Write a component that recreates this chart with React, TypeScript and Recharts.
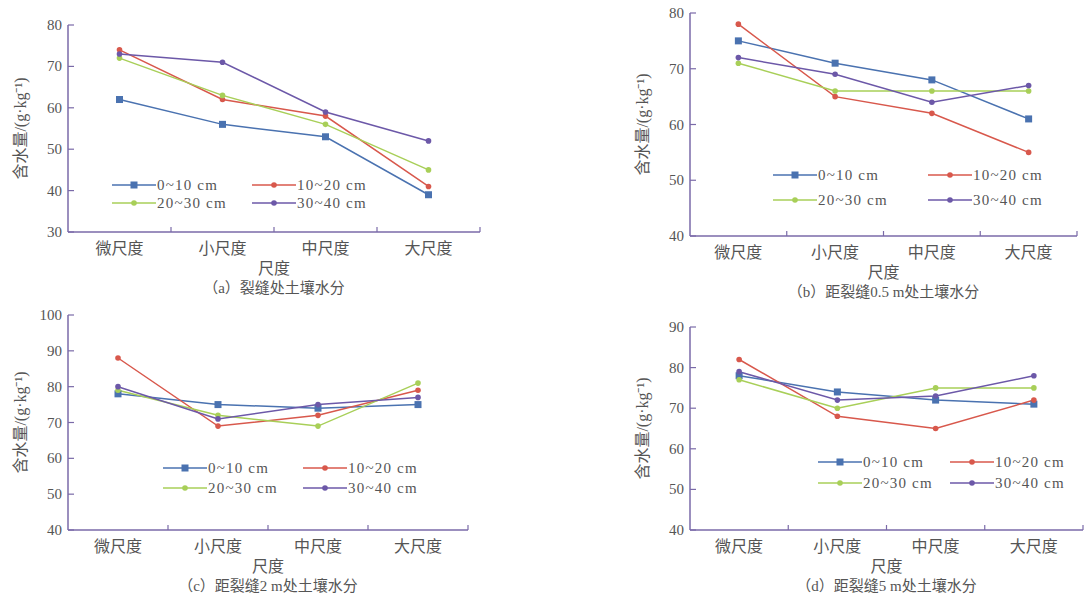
import React from "react";
import { Label, Legend, Line, LineChart, XAxis, YAxis } from "recharts";

const categories = ["微尺度", "小尺度", "中尺度", "大尺度"];
const seriesNames = ["0~10 cm", "10~20 cm", "20~30 cm", "30~40 cm"];
const seriesColors = ["#4a72b0", "#d8584c", "#a8cf58", "#6c58a8"];

// panel (a) 裂缝处
const aDepth1 = [62, 56, 53, 39];
const aDepth2 = [74, 62, 58, 41];
const aDepth3 = [72, 63, 56, 45];
const aDepth4 = [73, 71, 59, 52];

// panel (b) 0.5 m
const bDepth1 = [75, 71, 68, 61];
const bDepth2 = [78, 65, 62, 55];
const bDepth3 = [71, 66, 66, 66];
const bDepth4 = [72, 69, 64, 67];

// panel (c) 2 m
const cDepth1 = [78, 75, 74, 75];
const cDepth2 = [88, 69, 72, 79];
const cDepth3 = [79, 72, 69, 81];
const cDepth4 = [80, 71, 75, 77];

// panel (d) 5 m
const dDepth1 = [78, 74, 72, 71];
const dDepth2 = [82, 68, 65, 72];
const dDepth3 = [77, 70, 75, 75];
const dDepth4 = [79, 72, 73, 78];

const aTicks = [30, 40, 50, 60, 70, 80];
const bTicks = [40, 50, 60, 70, 80];
const cTicks = [40, 50, 60, 70, 80, 90, 100];
const dTicks = [40, 50, 60, 70, 80, 90];

const FONT = '"Liberation Serif", "Noto Sans CJK SC", serif';
const AXIS = "#7a6aa8";
const TEXT = "#555";

const buildRows = (cols: number[][]) =>
  categories.map((name, i) => ({
    name,
    s0: cols[0][i],
    s1: cols[1][i],
    s2: cols[2][i],
    s3: cols[3][i],
  }));

const Marker = ({ cx, cy, color, square }) =>
  square ? (
    <rect x={cx - 3.5} y={cy - 3.5} width={7} height={7} fill={color} />
  ) : (
    <circle cx={cx} cy={cy} r={2.8} fill={color} />
  );

const LegendBox = ({ payload, colW, rowH }) => (
  <div
    style={{
      display: "grid",
      gridTemplateColumns: `${colW}px ${colW}px`,
      rowGap: rowH - 16,
      fontFamily: FONT,
      fontSize: 15,
      color: TEXT,
      letterSpacing: 1.2,
    }}
  >
    {(payload || []).map((p, i) => (
      <div key={p.value} style={{ display: "flex", alignItems: "center", height: 16 }}>
        <svg width={44} height={10}>
          <line x1={0} y1={5} x2={44} y2={5} stroke={p.color} strokeWidth={1.5} />
          <Marker cx={22} cy={5} color={p.color} square={i === 0} />
        </svg>
        <span style={{ marginLeft: 1, whiteSpace: "nowrap" }}>{p.value}</span>
      </div>
    ))}
  </div>
);

const Panel = ({ plot, domain, ticks, cols, caption, legend }) => {
  const left = plot.x - 60;
  const top = plot.y - 10;
  const width = plot.w + 60 + 10;
  const height = plot.h + 10 + 70;
  const data = buildRows(cols);
  const axisY = 10 + plot.h;
  const bandW = plot.w / categories.length;

  const XTick = ({ x, y, payload }) => (
    <g>
      <text x={x} y={y} dy={14} textAnchor="middle" fill={TEXT} fontSize={16}>
        {payload.value}
      </text>
      <line x1={x + bandW / 2} y1={axisY} x2={x + bandW / 2} y2={axisY - 5} stroke={AXIS} strokeWidth={1.2} />
    </g>
  );

  const YTick = ({ x, y, payload }) => (
    <g>
      <text x={x} y={y} dy={5} textAnchor="end" fill={TEXT} fontSize={15}>
        {payload.value}
      </text>
      <line x1={x + 6} y1={y} x2={x + 12} y2={y} stroke={AXIS} strokeWidth={1.2} />
    </g>
  );

  return (
    <div style={{ position: "absolute", left, top }}>
      <LineChart
        width={width}
        height={height}
        data={data}
        margin={{ top: 10, right: 10, left: 0, bottom: 0 }}
        style={{ fontFamily: FONT }}
      >
        <XAxis
          dataKey="name"
          scale="band"
          height={70}
          stroke={AXIS}
          strokeWidth={1.5}
          tickLine={false}
          tickSize={0}
          tickMargin={8}
          tick={XTick}
          interval={0}
        >
          <Label value="尺度" position="insideTop" offset={31} fill={TEXT} fontSize={16} />
          <Label value={caption} position="insideTop" offset={50} fill={TEXT} fontSize={15} />
        </XAxis>
        <YAxis
          width={60}
          type="number"
          domain={domain}
          ticks={ticks}
          interval={0}
          stroke={AXIS}
          strokeWidth={1.5}
          tickLine={false}
          tickSize={4}
          tickMargin={2}
          tick={YTick}
        >
          <Label
            value="含水量/(g·kg⁻¹)"
            angle={-90}
            position="insideLeft"
            offset={12}
            fill={TEXT}
            fontSize={16}
            style={{ textAnchor: "middle" }}
          />
        </YAxis>
        <Legend
          layout="vertical"
          align="center"
          verticalAlign="middle"
          wrapperStyle={{
            position: "absolute",
            left: legend.x - left,
            top: legend.y - top,
            width: "auto",
            height: "auto",
          }}
          content={(props) => <LegendBox payload={props.payload} colW={legend.colW} rowH={legend.rowH} />}
        />
        {seriesNames.map((n, i) => (
          <Line
            key={n}
            dataKey={`s${i}`}
            name={n}
            type="linear"
            stroke={seriesColors[i]}
            strokeWidth={1.5}
            dot={(p) => <Marker key={`${n}-${p.index}`} cx={p.cx} cy={p.cy} color={seriesColors[i]} square={i === 0} />}
            isAnimationActive={false}
          />
        ))}
      </LineChart>
    </div>
  );
};

export default function App() {
  return (
    <div style={{ position: "absolute", left: 0, top: 0, width: 1088, height: 605, background: "#fff" }}>
      <Panel
        plot={{ x: 68, y: 25, w: 412, h: 207 }}
        domain={[30, 80]}
        ticks={aTicks}
        cols={[aDepth1, aDepth2, aDepth3, aDepth4]}
        caption="（a）裂缝处土壤水分"
        legend={{ x: 112, y: 177, colW: 140, rowH: 18 }}
      />
      <Panel
        plot={{ x: 690, y: 13, w: 387, h: 223 }}
        domain={[40, 80]}
        ticks={bTicks}
        cols={[bDepth1, bDepth2, bDepth3, bDepth4]}
        caption="（b）距裂缝0.5 m处土壤水分"
        legend={{ x: 773, y: 167, colW: 155, rowH: 25 }}
      />
      <Panel
        plot={{ x: 68, y: 315, w: 400, h: 215 }}
        domain={[40, 100]}
        ticks={cTicks}
        cols={[cDepth1, cDepth2, cDepth3, cDepth4]}
        caption="（c）距裂缝2 m处土壤水分"
        legend={{ x: 163, y: 460, colW: 140, rowH: 20 }}
      />
      <Panel
        plot={{ x: 690, y: 327, w: 393, h: 203 }}
        domain={[40, 90]}
        ticks={dTicks}
        cols={[dDepth1, dDepth2, dDepth3, dDepth4]}
        caption="（d）距裂缝5 m处土壤水分"
        legend={{ x: 818, y: 454, colW: 132, rowH: 21 }}
      />
    </div>
  );
}
